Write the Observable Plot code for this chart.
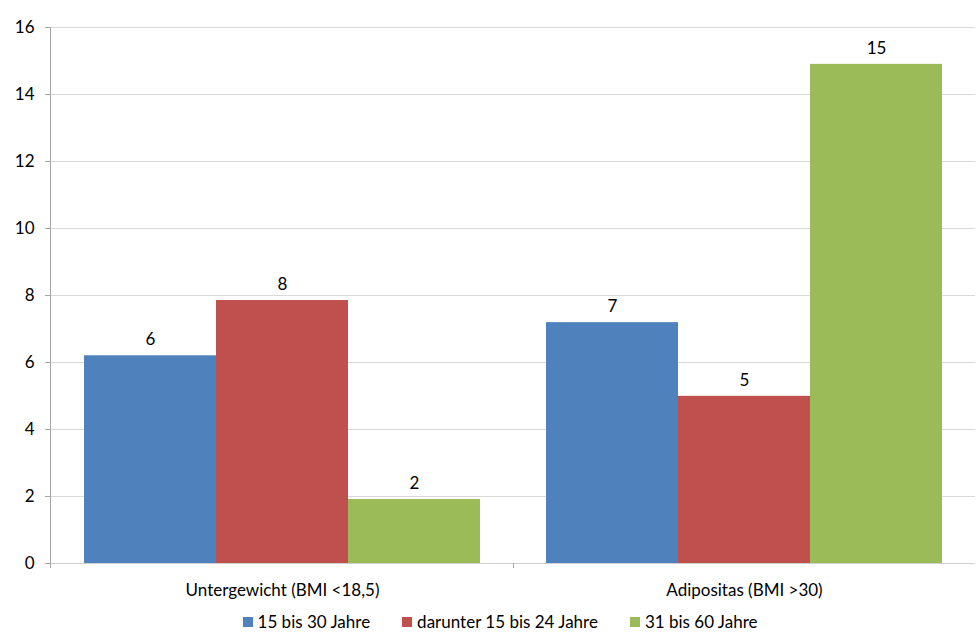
<!DOCTYPE html>
<html>
<head>
<meta charset="utf-8">
<script src="https://cdn.jsdelivr.net/npm/d3@7"></script>
<script src="https://cdn.jsdelivr.net/npm/@observablehq/plot@0.6"></script>
<style>
  html, body { margin: 0; padding: 0; background: #fff; }
  body { width: 976px; height: 638px; overflow: hidden; font-family: Lato, "Open Sans", sans-serif; }
  #chart svg { display: block; }
  #legend { display: flex; justify-content: center; align-items: center; height: 33px; font-size: 17px; color: #000; margin-left: 24px; }
  .item { display: flex; align-items: center; margin: 0 16px; }
  .sw { width: 10px; height: 10px; margin-right: 5px; }
</style>
</head>
<body>
<div id="chart"></div>
<div id="legend"></div>
<script>
const categories = ["Untergewicht (BMI <18,5)", "Adipositas (BMI >30)"];
const series = ["15 bis 30 Jahre", "darunter 15 bis 24 Jahre", "31 bis 60 Jahre"];
const colors = ["#4F81BD", "#C0504D", "#9BBB59"];
const values_15_30 = [6.2, 7.19];
const values_15_24 = [7.85, 4.99];
const values_31_60 = [1.91, 14.9];
const yTicks = [0, 2, 4, 6, 8, 10, 12, 14, 16];

const seriesValues = [values_15_30, values_15_24, values_31_60];
const data = [];
categories.forEach((c, i) => series.forEach((s, j) => data.push({cat: c, series: s, value: seriesValues[j][i]})));
const fmt = d3.format(".0f");

const W = 976, H = 605, mL = 50, mR = 1, mT = 27, mB = 42;

const chart = Plot.plot({
  width: W, height: H,
  marginLeft: mL, marginRight: mR, marginTop: mT, marginBottom: mB,
  style: {fontFamily: "Lato, 'Open Sans', sans-serif", fontSize: "17px", color: "#000", background: "#fff"},
  fx: {domain: categories, padding: 0, label: null, axis: null},
  x: {domain: series, paddingInner: 0, paddingOuter: 0.25, axis: null},
  y: {domain: [0, 16], label: null},
  color: {domain: series, range: colors},
  marks: [
    Plot.gridY(yTicks, {stroke: "#d9d9d9", strokeOpacity: 1}),
    Plot.axisY(yTicks, {tickSize: 6, tickPadding: 11, stroke: "#a6a6a6", label: null, fill: "#000", fontSize: 17}),
    Plot.axisFx({anchor: "bottom", tickSize: 0, tickPadding: 20, label: null, fontSize: 17, fill: "#000"}),
    Plot.barY(data, {fx: "cat", x: "series", y: "value", fill: "series"}),
    Plot.ruleY([0], {stroke: "#d0d0d0"}),
    Plot.text(data, {fx: "cat", x: "series", y: "value", text: d => fmt(d.value), dy: -16, fontSize: 17, fill: "#000"})
  ]
});
document.getElementById("chart").appendChild(chart);

// axis line and category separator ticks derived from the scales
const fxs = chart.scale("fx"), ys = chart.scale("y");
const svg = d3.select(chart);
const y0 = ys.apply(0), yTop = ys.apply(16);
svg.append("line").attr("x1", mL + 0.5).attr("x2", mL + 0.5).attr("y1", yTop).attr("y2", y0 + 5)
  .attr("stroke", "#a6a6a6");
categories.forEach((c, i) => {
  if (i === 0) return;
  const xx = Math.round(fxs.apply(c)) + 0.5;
  svg.append("line").attr("x1", xx).attr("x2", xx).attr("y1", y0).attr("y2", y0 + 5).attr("stroke", "#a6a6a6");
});

const legend = d3.select("#legend");
series.forEach((s, j) => {
  const it = legend.append("div").attr("class", "item");
  it.append("div").attr("class", "sw").style("background", colors[j]);
  it.append("span").text(s);
});
</script>
</body>
</html>
